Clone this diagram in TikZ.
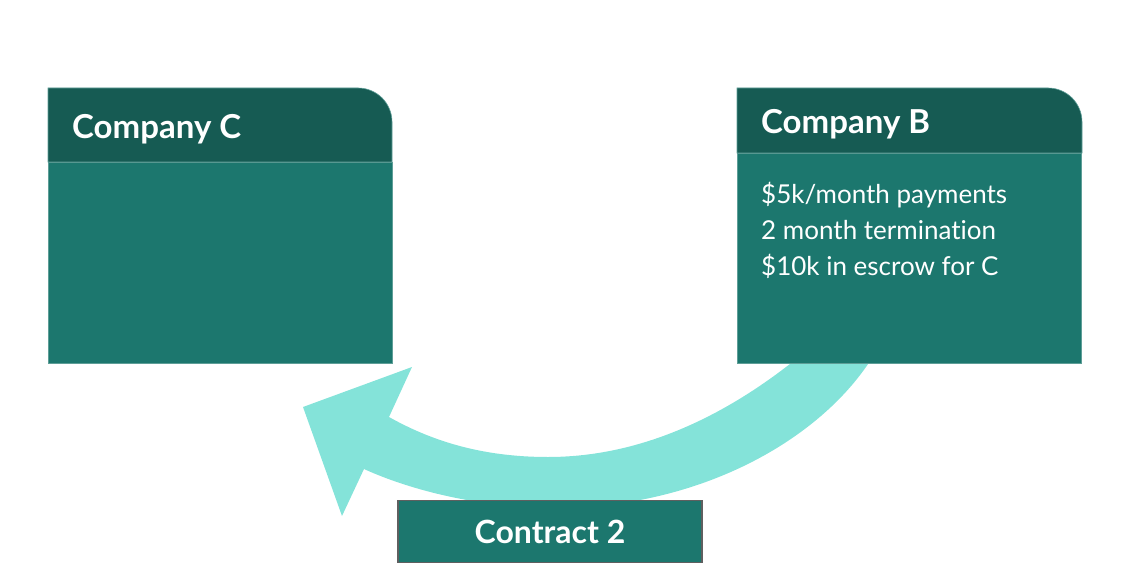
\documentclass[tikz,border=0pt]{standalone}
\usepackage{fontspec}
\setmainfont{Lato}[Ligatures={NoCommon}]
\usetikzlibrary{positioning}
\definecolor{headTeal}{HTML}{165B53}
\definecolor{bodyTeal}{HTML}{1C776E}
\definecolor{arrowAqua}{HTML}{84E3D9}
\definecolor{edgeTeal}{HTML}{5E9E97}
\definecolor{contractEdge}{HTML}{5F5F5F}
\tikzset{
  bodybox/.style={fill=bodyTeal, draw=edgeTeal, line width=0.6pt, anchor=north west,
    inner sep=0pt, minimum width=344pt},
  headfill/.style={fill=headTeal, draw=edgeTeal, line width=0.6pt},
  headtext/.style={anchor=base west, text=white, inner sep=0pt,
    font=\fontsize{33}{38}\selectfont\bfseries},
  bodytext/.style={anchor=base west, text=white, inner sep=0pt,
    font=\fontsize{26}{30}\selectfont},
  contractbox/.style={fill=bodyTeal, draw=contractEdge, line width=1.5pt,
    minimum width=304pt, minimum height=62pt, inner sep=0pt, text=white,
    font=\fontsize{32}{36}\selectfont\bfseries},
}
\begin{document}
\begin{tikzpicture}[x=1pt, y=-1pt]
  \useasboundingbox (0,0) rectangle (1144,586);
  % contract arrow, from B back round to C
  \fill[arrowAqua] (800,356) .. controls (715,425) and (630,457) .. (548,457)
    .. controls (480,457) and (430,440) .. (389,417)
    -- (412,367) -- (303,407) -- (342,516) -- (364,469)
    .. controls (410,490) and (480,508) .. (555,508)
    .. controls (700,508) and (820,440) .. (872,358) -- cycle;
  % Company C
  \node[bodybox, minimum height=201pt] (cBody) at (48,162) {};
  \path[headfill] (48,162) -- (48,88) -- (358,88)
    .. controls (376.8,88) and (392,103.2) .. (392,122) -- (392,162) -- cycle;
  \node[headtext] (cName) at (72,138) {Company C};
  % Company B
  \node[bodybox, minimum height=210pt] (bBody) at (737,153) {};
  \path[headfill] (737,153) -- (737,88) -- (1048,88)
    .. controls (1066.8,88) and (1082,103.2) .. (1082,122) -- (1082,153) -- cycle;
  \node[headtext] (bName) at (761,133) {Company B};
  \foreach \txt [count=\i] in {\$5k/month payments, 2 month termination, \$10k in escrow for C}
    \node[bodytext] (bLine\i) at (761,{203+36*(\i-1)}) {\txt};
  % contract label
  \node[contractbox] (contract) at (550,531.5) {Contract 2};
\end{tikzpicture}
\end{document}
